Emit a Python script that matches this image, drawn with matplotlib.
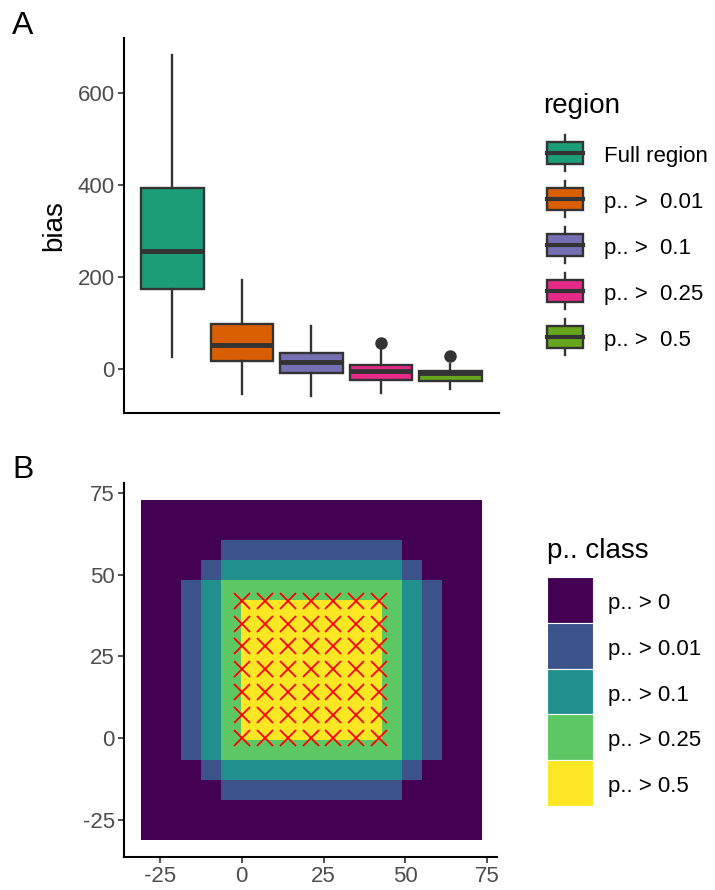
import matplotlib
matplotlib.use("Agg")
import matplotlib.pyplot as plt
from matplotlib.patches import Rectangle
from matplotlib.colors import ListedColormap, BoundaryNorm
import numpy as np

plt.rcParams["font.family"] = ["Liberation Sans", "DejaVu Sans"]
plt.rcParams["axes.unicode_minus"] = False

# ---------------------------------------
# Panel A data: bias summary per region
# ---------------------------------------
regions = ["Full region", "p.. >  0.01", "p.. >  0.1", "p.. >  0.25", "p.. >  0.5"]
box_colors = ["#1B9E77", "#D95F02", "#7570B3", "#E7298A", "#66A61E"]
whisker_lo = [27, -53, -57, -51, -42]
q1 = [175, 18, -9, -24, -25]
medians = [257, 52, 15, -4, -9]
q3 = [393, 99, 36, 9, -4]
whisker_hi = [683, 195, 94, 41, 12]
outliers = [[], [], [], [57], [28]]

# ---------------------------------------
# Panel B data: class raster + sample points
# ---------------------------------------
class_labels = ["p.. > 0", "p.. > 0.01", "p.. > 0.1", "p.. > 0.25", "p.. > 0.5"]
class_colors = ["#440154", "#3B528B", "#21908C", "#5DC863", "#FDE725"]
class_rows = [          # top row first
    "00000000000000000",
    "00000000000000000",
    "00001111111110000",
    "00012222222221000",
    "00123333333332100",
    "00123444444432100",
    "00123444444432100",
    "00123444444432100",
    "00123444444432100",
    "00123444444432100",
    "00123444444432100",
    "00123444444432100",
    "00123333333332100",
    "00012222222221000",
    "00001111111110000",
    "00000000000000000",
    "00000000000000000",
]
grid_x0, grid_y0, cell = -30.7, -31.1, 6.12
cross_x = [0, 7, 14, 21, 28, 35, 42]
cross_y = [0, 7, 14, 21, 28, 35, 42]

W, H = 715, 890
fig = plt.figure(figsize=(W / 100, H / 100), dpi=100)
fig.patch.set_facecolor("white")


def px_axes(left, top, right, bottom):
    return fig.add_axes([left / W, 1 - bottom / H, (right - left) / W, (bottom - top) / H])


def style_axes(ax):
    for s in ["top", "right"]:
        ax.spines[s].set_visible(False)
    for s in ["left", "bottom"]:
        ax.spines[s].set_linewidth(1.5)
    ax.tick_params(direction="out", length=4, width=1.2, color="#333333",
                   labelsize=16, labelcolor="#4D4D4D", pad=2.5)


# ---------------- Panel A ----------------
axA = px_axes(124, 38, 499, 413)
stats = []
for i in range(len(regions)):
    stats.append(dict(med=medians[i], q1=q1[i], q3=q3[i],
                      whislo=whisker_lo[i], whishi=whisker_hi[i], fliers=outliers[i]))
bp = axA.bxp(stats, positions=np.arange(1, 6), widths=0.9, patch_artist=True,
             showcaps=False,
             boxprops=dict(edgecolor="#333333", linewidth=1.7),
             whiskerprops=dict(color="#333333", linewidth=1.7),
             medianprops=dict(color="#333333", linewidth=3.5),
             flierprops=dict(marker="o", markersize=8, markerfacecolor="#333333",
                             markeredgecolor="#333333"))
for patch, c in zip(bp["boxes"], box_colors):
    patch.set_facecolor(c)
axA.set_xlim(0.305, 5.70)
axA.set_ylim(-95, 720)
axA.set_yticks([0, 200, 400, 600])
axA.set_xticks([])
axA.set_ylabel("bias", fontsize=20, labelpad=8)
style_axes(axA)

# ---------------- Panel B ----------------
axB = px_axes(124, 483, 497, 857)
grid = np.array([[int(ch) for ch in row] for row in class_rows[::-1]])
xe = grid_x0 + cell * np.arange(grid.shape[1] + 1)
ye = grid_y0 + cell * np.arange(grid.shape[0] + 1)
cmap = ListedColormap(class_colors)
norm = BoundaryNorm(np.arange(-0.5, 5.5, 1), cmap.N)
axB.pcolormesh(xe, ye, grid, cmap=cmap, norm=norm, shading="flat")
cx, cy = np.meshgrid(cross_x, cross_y)
axB.plot(cx.ravel(), cy.ravel(), linestyle="none", marker="x", markersize=12,
         markeredgewidth=1.3, color="#FF0000")
axB.set_xlim(-36, 78)
axB.set_ylim(-36.4, 78)
axB.set_xticks([-25, 0, 25, 50, 75])
axB.set_yticks([-25, 0, 25, 50, 75])
style_axes(axB)

# ---------------- Legends and panel tags ----------------
lax = fig.add_axes([0, 0, 1, 1], facecolor="none")
lax.set_xlim(0, W)
lax.set_ylim(H, 0)
lax.axis("off")

lax.text(12, 34, "A", fontsize=23, va="baseline", ha="left")
lax.text(12, 478, "B", fontsize=23, va="baseline", ha="left")

# region legend (boxplot keys)
lax.text(543, 113, "region", fontsize=20, va="baseline", ha="left")
for k, (lab, col) in enumerate(zip(regions, box_colors)):
    yc = 153 + 46 * k
    lax.plot([565.3, 565.3], [yc - 18, yc + 18], color="#333333", lw=1.7)
    lax.add_patch(Rectangle((547.3, yc - 11.3), 36, 22.6, facecolor=col,
                            edgecolor="#333333", lw=1.7, zorder=3))
    lax.plot([547.3, 583.3], [yc, yc], color="#333333", lw=3.0, zorder=4)
    lax.text(604, yc + 9, lab, fontsize=16, va="baseline", ha="left")

# class legend (filled squares)
lax.text(547, 558, "p.. class", fontsize=20, va="baseline", ha="left")
for k, (lab, col) in enumerate(zip(class_labels, class_colors)):
    ytop = 576.7 + 45.9 * k
    lax.add_patch(Rectangle((547.3, ytop), 46, 45.9, facecolor=col,
                            edgecolor="white", lw=0.8))
    lax.text(608, ytop + 23 + 9, lab, fontsize=16, va="baseline", ha="left")

fig.savefig("out.png", dpi=100)
